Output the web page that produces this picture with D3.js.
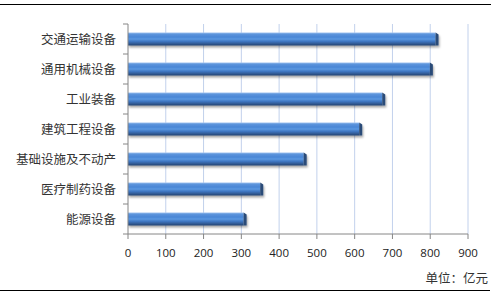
<!DOCTYPE html>
<html>
<head>
<meta charset="utf-8">
<script src="https://cdn.jsdelivr.net/npm/d3@7"></script>
<style>
  body { margin: 0; background: #fff; }
  svg { display: block; }
</style>
</head>
<body>
<div class="chart"></div>
<script>
const categories = ['交通运输设备', '通用机械设备', '工业装备', '建筑工程设备', '基础设施及不动产', '医疗制药设备', '能源设备'];
const values = [822, 807, 681, 620, 473, 358, 314];
const ticks = [0, 100, 200, 300, 400, 500, 600, 700, 800, 900];
const unitLabel = '单位：亿元';

const width = 491;
const height = 293;
const margin = {left: 128, right: 23, top: 24, bottom: 59};

const svg = d3.select('.chart').append('svg')
  .attr('width', width)
  .attr('height', height);

const defs = svg.append('defs');
const grad = defs.append('linearGradient')
  .attr('id', 'barGrad')
  .attr('x1', 0).attr('y1', 0).attr('x2', 0).attr('y2', 1);
[[0, '#a4c6f2'], [0.12, '#5d95dc'], [0.35, '#4a86d6'], [0.5, '#5b98e1'], [0.7, '#3d74bf'], [1, '#24446f']]
  .forEach(s => grad.append('stop').attr('offset', s[0]).attr('stop-color', s[1]));
defs.append('filter').attr('id', 'shadow')
  .attr('x', '-5%').attr('y', '-30%').attr('width', '110%').attr('height', '180%')
  .append('feDropShadow')
  .attr('dx', 1).attr('dy', 2).attr('stdDeviation', 1.2)
  .attr('flood-color', '#000').attr('flood-opacity', 0.35);

const x = d3.scaleLinear()
  .domain([0, 900])
  .range([margin.left, width - margin.right]);

const y = d3.scaleBand()
  .domain(categories)
  .range([margin.top, height - margin.bottom]);

// gridlines
svg.selectAll('.grid')
  .data(ticks.slice(1))
  .enter()
  .append('line')
  .attr('x1', d => x(d)).attr('x2', d => x(d))
  .attr('y1', margin.top).attr('y2', height - margin.bottom)
  .attr('stroke', '#c2d1ec')
  .attr('stroke-width', 1);

// bars
const barH = 13;
const bars = svg.selectAll('.bar')
  .data(values)
  .enter()
  .append('g')
  .attr('filter', 'url(#shadow)');

bars.append('rect')
  .attr('x', x(0))
  .attr('y', (d, i) => y(categories[i]) + y.bandwidth() / 2 - barH / 2)
  .attr('width', d => x(d) - x(0) - 3)
  .attr('height', barH)
  .attr('fill', 'url(#barGrad)');

// end cap
bars.append('path')
  .attr('d', (d, i) => {
    const x1 = x(d) - 3, x2 = x(d);
    const t = y(categories[i]) + y.bandwidth() / 2 - barH / 2;
    return `M${x1},${t} L${x2},${t + 2} L${x2},${t + barH} L${x1},${t + barH} Z`;
  })
  .attr('fill', '#2a4b78');

// axes
svg.append('line')
  .attr('x1', x(0)).attr('x2', x(0))
  .attr('y1', margin.top).attr('y2', height - margin.bottom)
  .attr('stroke', '#868686');
svg.append('line')
  .attr('x1', x(0)).attr('x2', x(900))
  .attr('y1', height - margin.bottom).attr('y2', height - margin.bottom)
  .attr('stroke', '#868686');

// y ticks
const yEdges = categories.map(c => y(c)).concat([height - margin.bottom]);
svg.selectAll('.ytick')
  .data(yEdges)
  .enter()
  .append('line')
  .attr('x1', x(0) - 5).attr('x2', x(0))
  .attr('y1', d => d).attr('y2', d => d)
  .attr('stroke', '#868686');

// x ticks
svg.selectAll('.xtick')
  .data(ticks)
  .enter()
  .append('line')
  .attr('x1', d => x(d)).attr('x2', d => x(d))
  .attr('y1', height - margin.bottom).attr('y2', height - margin.bottom + 5)
  .attr('stroke', '#868686');

svg.selectAll('.xlabel')
  .data(ticks)
  .enter()
  .append('text')
  .attr('x', d => x(d))
  .attr('y', height - margin.bottom + 23)
  .attr('text-anchor', 'middle')
  .attr('font-family', '"Open Sans", "Liberation Sans", sans-serif')
  .attr('font-size', 11.5)
  .attr('fill', '#222')
  .text(d => d);

svg.selectAll('.ylabel')
  .data(categories)
  .enter()
  .append('text')
  .attr('x', x(0) - 12)
  .attr('y', d => y(d) + y.bandwidth() / 2)
  .attr('dy', '0.36em')
  .attr('text-anchor', 'end')
  .attr('font-family', '"Noto Sans CJK SC", sans-serif')
  .attr('font-size', 12.5)
  .attr('fill', '#333')
  .text(d => d);

svg.append('text')
  .attr('x', 488)
  .attr('y', 283)
  .attr('text-anchor', 'end')
  .attr('font-family', '"Noto Sans CJK SC", sans-serif')
  .attr('font-size', 12.5)
  .attr('fill', '#333')
  .text(unitLabel);

// frame lines
svg.append('line')
  .attr('x1', 0).attr('x2', width)
  .attr('y1', 4.5).attr('y2', 4.5)
  .attr('stroke', '#000').attr('stroke-width', 1.2);
svg.append('line')
  .attr('x1', 0).attr('x2', 490)
  .attr('y1', 290.5).attr('y2', 290.5)
  .attr('stroke', '#000').attr('stroke-width', 1.2);
</script>
</body>
</html>
